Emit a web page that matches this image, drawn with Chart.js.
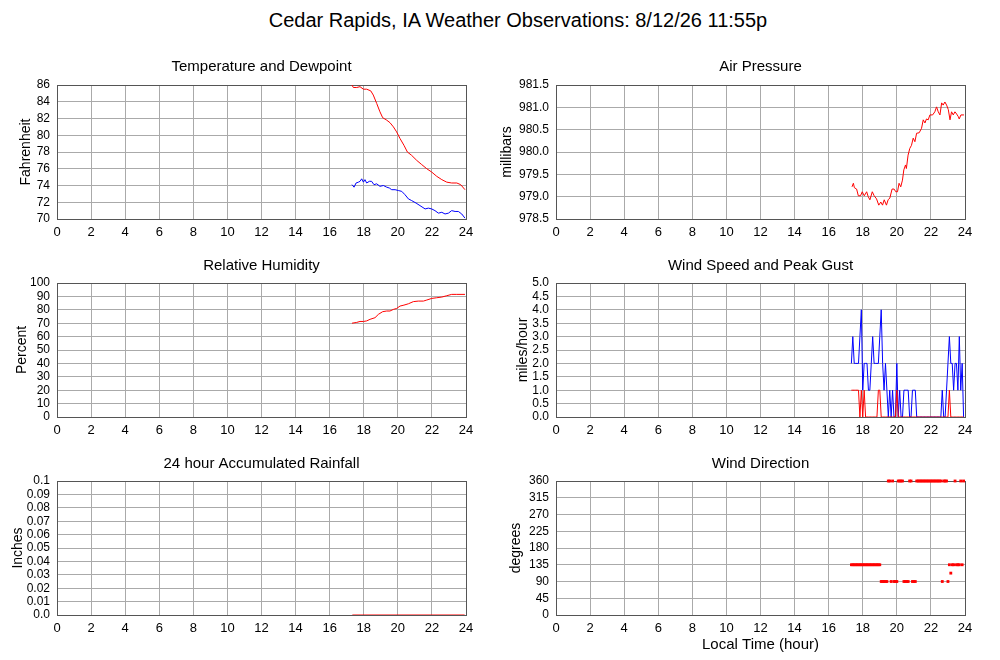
<!DOCTYPE html>
<html><head><meta charset="utf-8">
<script src="https://cdn.jsdelivr.net/npm/chart.js@4"></script>
<style>
html,body{margin:0;padding:0;background:#fff;overflow:hidden;width:1000px;height:660px;}
canvas{position:absolute;}
#mainTitle{position:absolute;left:0;width:1036px;top:8px;text-align:center;font-family:'Liberation Sans',Arial,sans-serif;font-size:20px;line-height:24px;color:#000;}
</style></head><body>
<div id="mainTitle">Cedar Rapids, IA Weather Observations: 8/12/26 11:55p</div>
<canvas id="cTemp" width="500" height="188" style="left:0px;top:56px"></canvas>
<canvas id="cPres" width="510" height="188" style="left:490px;top:56px"></canvas>
<canvas id="cRh" width="500" height="187" style="left:0px;top:255px"></canvas>
<canvas id="cWind" width="510" height="187" style="left:490px;top:255px"></canvas>
<canvas id="cRain" width="500" height="187" style="left:0px;top:453px"></canvas>
<canvas id="cDir" width="510" height="204" style="left:490px;top:453px"></canvas>
<script>
// ---------- data ----------
const xTickValues = [0,2,4,6,8,10,12,14,16,18,20,22,24];
const xTickLabels = ['0','2','4','6','8','10','12','14','16','18','20','22','24'];

const tempHours = [17.31,17.39,17.59,17.78,17.98,18.17,18.41,18.56,18.76,18.95,19.11,19.35,19.54,19.74,19.93,20.13,20.36,20.56,20.81,21.11,21.40,21.70,21.99,22.28,22.58,22.87,23.16,23.46,23.69,23.94];
const tempValues = [86.0,85.7,85.7,85.8,85.5,85.5,85.3,84.8,83.8,82.8,82.1,81.8,81.5,81.0,80.4,79.6,78.8,78.0,77.6,77.0,76.5,76.0,75.6,75.1,74.7,74.4,74.3,74.3,74.1,73.5];
const dewHours = [17.31,17.43,17.55,17.69,17.78,17.88,17.98,18.07,18.17,18.33,18.46,18.60,18.76,18.95,19.15,19.35,19.50,19.64,19.84,20.03,20.23,20.42,20.62,20.81,21.07,21.30,21.60,21.79,21.99,22.18,22.38,22.58,22.77,22.97,23.16,23.36,23.55,23.75,23.94];
const dewValues = [74.1,73.8,74.3,74.4,74.5,74.8,74.4,74.7,74.3,74.5,74.5,74.1,74.2,73.9,74.0,73.8,73.7,73.5,73.5,73.4,73.3,72.9,72.4,72.2,71.9,71.6,71.2,71.3,71.2,71.0,70.7,70.8,70.6,70.7,71.0,70.9,70.9,70.6,70.1];
const tempTicks = [70,72,74,76,78,80,82,84,86];
const tempTickLabels = ['70','72','74','76','78','80','82','84','86'];

const presHours = [17.37,17.45,17.51,17.64,17.74,17.87,17.97,18.09,18.23,18.32,18.42,18.56,18.67,18.81,18.94,19.06,19.16,19.26,19.39,19.49,19.59,19.72,19.84,19.94,20.04,20.13,20.23,20.33,20.41,20.51,20.56,20.66,20.76,20.86,20.96,21.06,21.16,21.31,21.45,21.55,21.65,21.74,21.84,21.94,22.10,22.23,22.33,22.43,22.53,22.63,22.72,22.82,22.92,23.02,23.12,23.21,23.31,23.41,23.51,23.61,23.66,23.76,23.94];
const presValues = [979.22,979.30,979.20,979.17,979.02,979.02,979.11,979.02,979.11,979.00,978.93,979.11,979.02,978.95,978.81,978.88,978.81,978.93,978.81,978.93,978.97,979.17,979.17,979.11,979.11,979.30,979.22,979.37,979.60,979.71,979.63,979.93,980.08,980.15,980.31,980.23,980.42,980.43,980.53,980.72,980.65,980.74,980.72,980.83,980.83,980.90,981.01,980.90,980.83,981.10,981.05,981.12,981.05,980.95,980.72,980.90,980.83,980.90,980.85,980.79,980.74,980.83,980.83];
const presTicks = [978.5,979.0,979.5,980.0,980.5,981.0,981.5];
const presTickLabels = ['978.5','979.0','979.5','980.0','980.5','981.0','981.5'];

const rhHours = [17.31,17.59,17.78,17.98,18.17,18.37,18.66,18.86,19.11,19.35,19.54,19.74,19.93,20.13,20.36,20.62,20.91,21.20,21.50,21.70,21.99,22.28,22.58,22.87,23.16,23.46,23.94];
const rhValues = [70,70.6,71.3,71.3,71.7,72.9,74.1,76.6,78.6,79.1,79.1,80.3,81,82.8,83.5,84.5,86.1,86.5,86.5,87.3,88.5,89,89.5,90.5,91.5,91.5,91.5];
const rhTicks = [0,10,20,30,40,50,60,70,80,90,100];
const rhTickLabels = ['0','10','20','30','40','50','60','70','80','90','100'];

const windMinutes = [1040,1045,1050,1055,1060,1065,1070,1075,1080,1085,
  1090,1095,1100,1105,1110,1115,1120,1125,1130,1135,
  1140,1145,1150,1155,1160,1165,1170,1175,1180,1185,
  1190,1195,1200,1205,1210,1215,1220,1225,1230,1235,
  1240,1245,1250,1255,1260,1265,1270,1275,1280,1285,
  1290,1295,1300,1305,1310,1315,1320,1325,1330,1335,
  1340,1345,1350,1355,1360,1365,1370,1375,1380,1385,
  1390,1395,1400,1405,1410,1415,1420,1425,1430,1435];
const gustValues = [2,3,2,2,2,2,3,4,1,2,
  2,2,1,1,2,3,2,2,2,2,
  3,4,2,1,2,1,0,1,0,1,
  0,0,2,0,1,0,0,1,1,1,
  1,0,0,1,1,1,0,0,0,0,
  0,0,0,0,0,0,0,0,0,0,
  0,0,0,0,1,0,0,1,2,3,
  2,2,1,2,2,1,3,1,2,0];
const speedValues = [1,1,1,1,1,1,0,1,0,1,
  0,0,0,0,0,0,0,0,0,1,
  1,0,0,0,0,0,0,0,0,0,
  0,0,1,0,0,0,0,0,0,0,
  0,0,0,0,0,0,0,0,0,0,
  0,0,0,0,0,0,0,0,0,0,
  0,0,0,0,0,0,0,0,0,1,
  0,0,0,0,0,0,0,0,0,0];
const windTicks = [0,0.5,1,1.5,2,2.5,3,3.5,4,4.5,5];
const windTickLabels = ['0.0','0.5','1.0','1.5','2.0','2.5','3.0','3.5','4.0','4.5','5.0'];

const rainHours = [17.33,23.92];
const rainValues = [0,0];
const rainTicks = [0,0.01,0.02,0.03,0.04,0.05,0.06,0.07,0.08,0.09,0.1];
const rainTickLabels = ['0.0','0.01','0.02','0.03','0.04','0.05','0.06','0.07','0.08','0.09','0.1'];

const dirValues = [135,135,135,135,135,135,135,135,135,135,
  135,135,135,135,135,135,135,135,135,135,
  135,90,90,90,90,90,360,360,90,360,
  90,90,90,360,360,360,360,90,90,90,
  90,360,360,90,90,90,360,360,360,360,
  360,360,360,360,360,360,360,360,360,360,
  360,360,360,360,90,360,360,360,90,135,
  112.5,135,135,360,135,135,135,360,135,360];
const dirTicks = [0,45,90,135,180,225,270,315,360];
const dirTickLabels = ['0','45','90','135','180','225','270','315','360'];

// ---------- drawing ----------
const FONT = "'Liberation Sans', Arial, Helvetica, sans-serif";
const RED = '#ff0000', BLUE = '#0000ff';
const pts = (xs, ys) => xs.map((x, i) => ({x: x, y: ys[i]}));
const windHours = windMinutes.map(m => m / 60);

function lineSet(data, color, order) {
  return {data: data, borderColor: color, backgroundColor: color, borderWidth: 1,
    pointRadius: 0, fill: false, tension: 0, order: order || 0};
}

function panel(id, o) {
  const isLeft = o.left;
  const W = isLeft ? 57 : 66;
  const nX = xTickValues.length, nY = o.yTicks.length;
  return new Chart(document.getElementById(id), {
    type: 'line',
    data: {datasets: o.datasets},
    options: {
      responsive: false, animation: false, devicePixelRatio: 1,
      layout: {padding: {left: 0, right: isLeft ? 34 : 35, top: 0, bottom: 0}},
      plugins: {
        legend: {display: false}, tooltip: {enabled: false},
        title: {display: true, text: o.title, fullSize: false, color: '#000',
          font: {size: 15, family: FONT, weight: 'normal', lineHeight: 1.2},
          padding: {top: 2, bottom: o.titleBottom - 2}}
      },
      scales: {
        x: {
          type: 'linear', min: 0, max: 24,
          afterBuildTicks: s => { s.ticks = xTickValues.map(v => ({value: v})); },
          afterFit: s => { s.height = o.xTitle ? 42 : 25; },
          ticks: {callback: (v, i) => xTickLabels[i], color: '#000', autoSkip: false, maxRotation: 0,
            font: {size: 13, family: FONT}, padding: 6},
          grid: {drawTicks: false, lineWidth: 1, color: c => (c.index === nX - 1 ? '#555' : '#aaa')},
          border: {color: '#555', width: 1},
          title: o.xTitle ? {display: true, text: o.xTitle, color: '#000',
            font: {size: 15, family: FONT}, padding: {top: 0, bottom: 3}} : {display: false}
        },
        y: {
          type: 'linear', min: o.yTicks[0], max: o.yTicks[nY - 1],
          afterBuildTicks: s => { s.ticks = o.yTicks.map(v => ({value: v})); },
          afterFit: s => { s.width = W; },
          ticks: {callback: (v, i) => o.yLabels[i], color: '#000', autoSkip: false,
            font: {size: 12, family: FONT}, padding: 7},
          grid: {drawTicks: false, lineWidth: 1, color: c => (c.index === nY - 1 ? '#555' : '#aaa')},
          border: {color: '#555', width: 1},
          title: {display: true, text: o.yTitle, color: '#000',
            font: {size: 14, family: FONT}, padding: {top: o.yTitlePad, bottom: 0}}
        }
      }
    }
  });
}

panel('cTemp', {left: true, title: 'Temperature and Dewpoint', titleBottom: 11,
  yTitle: 'Fahrenheit', yTitlePad: 17.6, yTicks: tempTicks, yLabels: tempTickLabels,
  datasets: [lineSet(pts(tempHours, tempValues), RED), lineSet(pts(dewHours, dewValues), BLUE)]});

panel('cPres', {left: false, title: 'Air Pressure', titleBottom: 11,
  yTitle: 'millibars', yTitlePad: 9.1, yTicks: presTicks, yLabels: presTickLabels,
  datasets: [lineSet(pts(presHours, presValues), RED)]});

panel('cRh', {left: true, title: 'Relative Humidity', titleBottom: 10,
  yTitle: 'Percent', yTitlePad: 13.6, yTicks: rhTicks, yLabels: rhTickLabels,
  datasets: [lineSet(pts(rhHours, rhValues), RED)]});

panel('cWind', {left: false, title: 'Wind Speed and Peak Gust', titleBottom: 10,
  yTitle: 'miles/hour', yTitlePad: 25, yTicks: windTicks, yLabels: windTickLabels,
  datasets: [lineSet(pts(windHours, speedValues), RED, 0), lineSet(pts(windHours, gustValues), BLUE, 1)]});

panel('cRain', {left: true, title: '24 hour Accumulated Rainfall', titleBottom: 10,
  yTitle: 'Inches', yTitlePad: 9.6, yTicks: rainTicks, yLabels: rainTickLabels,
  datasets: [lineSet(pts(rainHours, rainValues), RED)]});

panel('cDir', {left: false, title: 'Wind Direction', titleBottom: 10, xTitle: 'Local Time (hour)',
  yTitle: 'degrees', yTitlePad: 17.6, yTicks: dirTicks, yLabels: dirTickLabels,
  datasets: [{data: pts(windHours, dirValues), showLine: false, pointStyle: 'rect', pointRadius: 2,
    pointBorderWidth: 0, borderWidth: 0, backgroundColor: RED, borderColor: RED, clip: false}]});
</script>
</body></html>
